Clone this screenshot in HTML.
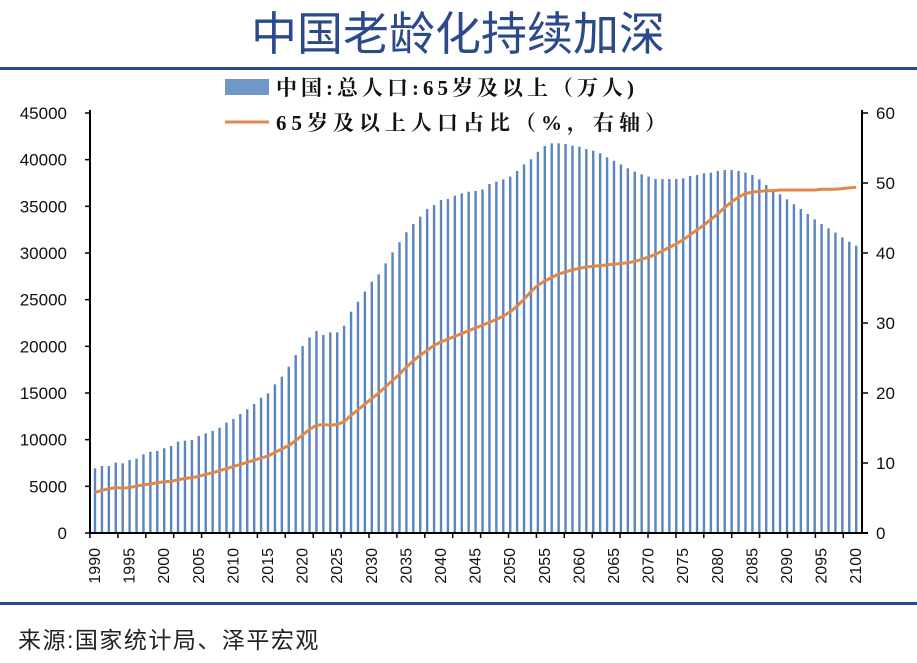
<!DOCTYPE html>
<html><head><meta charset="utf-8"><style>
html,body{margin:0;padding:0;background:#fff;}
svg{display:block;font-family:"Liberation Sans","Noto Sans CJK SC",sans-serif;}
</style></head><body>
<svg id="chart" width="917" height="663" viewBox="0 0 917 663" xmlns="http://www.w3.org/2000/svg">
<text x="458" y="50" text-anchor="middle" font-size="46" fill="#2b4a8b" font-family="'Liberation Sans','Noto Sans CJK SC',sans-serif">中国老龄化持续加深</text>
<rect x="0" y="67" width="917" height="3" fill="#2b4a8b"/>
<rect x="0" y="602" width="917" height="3" fill="#2b4a8b"/>
<text x="18" y="648" font-size="23" letter-spacing="1.5" fill="#222">来源:国家统计局、泽平宏观</text>
<g>
<rect x="225" y="79" width="44" height="16" fill="#6f97c8"/>
<text x="276" y="95" font-size="21" font-weight="bold" letter-spacing="4" font-family="'Liberation Serif','Noto Serif CJK SC',serif" fill="#111">中国:总人口:65岁及以上（万人)</text>
<line x1="225" y1="122" x2="269" y2="122" stroke="#e0884a" stroke-width="3"/>
<text x="276" y="130" font-size="21" font-weight="bold" letter-spacing="5" font-family="'Liberation Serif','Noto Serif CJK SC',serif" fill="#111">65岁及以上人口占比（%，右轴）</text>
</g>
<g id="bars"></g>
<g id="axes"></g>
<path id="line" fill="none" stroke="#e0884a" stroke-width="3" stroke-linejoin="round"/>
</svg>
<script>
const years = [];
for (let y = 1990; y <= 2100; y++) years.push(y);
const population = [6930,7180,7180,7540,7470,7820,7960,8430,8710,8790,9070,9320,9780,9890,9960,10390,10680,10930,11290,11820,12210,12750,13250,13820,14500,14960,15930,16750,17820,19070,20040,20960,21640,21210,21500,21500,22210,23710,24780,25860,26930,27710,28890,30070,31150,32220,33110,33890,34710,35140,35680,35780,36140,36390,36570,36640,36820,37390,37640,37890,38180,38790,39500,40040,40850,41460,41750,41750,41680,41500,41390,41140,40960,40680,40250,39890,39500,39070,38710,38430,38180,37930,37930,37930,37930,38000,38250,38360,38540,38610,38790,38890,38890,38790,38610,38360,37890,37290,36820,36290,35750,35220,34710,34180,33610,33110,32640,32180,31680,31210,30780];
const share = [5.8,6.1,6.3,6.5,6.4,6.5,6.7,6.9,7.0,7.2,7.3,7.4,7.6,7.8,7.9,8.1,8.4,8.6,8.9,9.2,9.5,9.8,10.1,10.4,10.7,11.0,11.5,12.0,12.5,13.2,14.0,14.8,15.4,15.5,15.4,15.5,15.9,16.8,17.6,18.4,19.2,20.0,20.9,21.8,22.7,23.7,24.6,25.4,26.1,26.8,27.3,27.7,28.1,28.5,28.9,29.3,29.7,30.1,30.5,31.0,31.6,32.4,33.4,34.5,35.4,36.0,36.5,37.0,37.3,37.6,37.8,38.0,38.1,38.2,38.3,38.4,38.5,38.6,38.8,39.1,39.4,39.8,40.3,40.8,41.3,41.9,42.6,43.3,44.0,44.8,45.6,46.5,47.3,48.0,48.5,48.7,48.8,48.9,48.9,49.0,49.0,49.0,49.0,49.0,49.0,49.1,49.1,49.1,49.2,49.3,49.4];
const leftTicks = [0,5000,10000,15000,20000,25000,30000,35000,40000,45000];
const rightTicks = [0,10,20,30,40,50,60];
const xLabels = [1990,1995,2000,2005,2010,2015,2020,2025,2030,2035,2040,2045,2050,2055,2060,2065,2070,2075,2080,2085,2090,2095,2100];

const NS = "http://www.w3.org/2000/svg";
const X0 = 90, X1 = 862, Y0 = 533, Ytop = 113;
const xs = y => 95 + (y - 1990) * 6.92;
const yl = v => Y0 - v / 45000 * (Y0 - Ytop);
const yr = v => Y0 - v / 60 * (Y0 - Ytop);
function mk(tag, attrs, parent) {
  const e = document.createElementNS(NS, tag);
  for (const k in attrs) e.setAttribute(k, attrs[k]);
  parent.appendChild(e);
  return e;
}
const bars = document.getElementById('bars');
years.forEach((yr_, i) => {
  const top = yl(population[i]);
  const r = mk('rect', {x: xs(yr_) - 1.2, y: top, width: 2.4, height: Y0 - top, fill: '#5a85bd'}, bars);
  
  
});
document.getElementById('line').setAttribute('d', years.map((y, i) => (i ? 'L' : 'M') + xs(y).toFixed(1) + ' ' + yr(share[i]).toFixed(1)).join(' '));
const ax = document.getElementById('axes');
let e;
e = mk('line', {x1: X0, y1: Ytop - 3, x2: X0, y2: Y0, stroke: '#000', 'stroke-width': 2}, ax);
 
e = mk('line', {x1: X1, y1: Ytop - 3, x2: X1, y2: Y0, stroke: '#000', 'stroke-width': 2}, ax);
 
e = mk('line', {x1: X0, y1: Y0, x2: X1 + 6, y2: Y0, stroke: '#000', 'stroke-width': 2}, ax);
 
leftTicks.forEach(v => {
  mk('line', {x1: X0 - 5, y1: yl(v), x2: X0, y2: yl(v), stroke: '#000', 'stroke-width': 1.5}, ax);
  const t = mk('text', {x: 67, y: yl(v) + 6, 'text-anchor': 'end', 'font-size': 17, fill: '#111'}, ax);
  t.textContent = v;
  
  
});
rightTicks.forEach(v => {
  mk('line', {x1: X1, y1: yr(v), x2: X1 + 6, y2: yr(v), stroke: '#000', 'stroke-width': 1.5}, ax);
  const t = mk('text', {x: 876, y: yr(v) + 6, 'font-size': 17, fill: '#111'}, ax);
  t.textContent = v;
  
  
});
for (let x = X0; x <= X1; x += 27.9) mk('line', {x1: x, y1: Y0, x2: x, y2: Y0 + 5, stroke: '#000', 'stroke-width': 1.5}, ax);
xLabels.forEach(v => {
  const x = xs(v) + 5;
  const t = mk('text', {x: x, y: 548, 'text-anchor': 'end', 'font-size': 16, fill: '#111', transform: 'rotate(-90 ' + x + ' 548)'}, ax);
  t.textContent = v;
  
  
});
</script>
</body></html>
